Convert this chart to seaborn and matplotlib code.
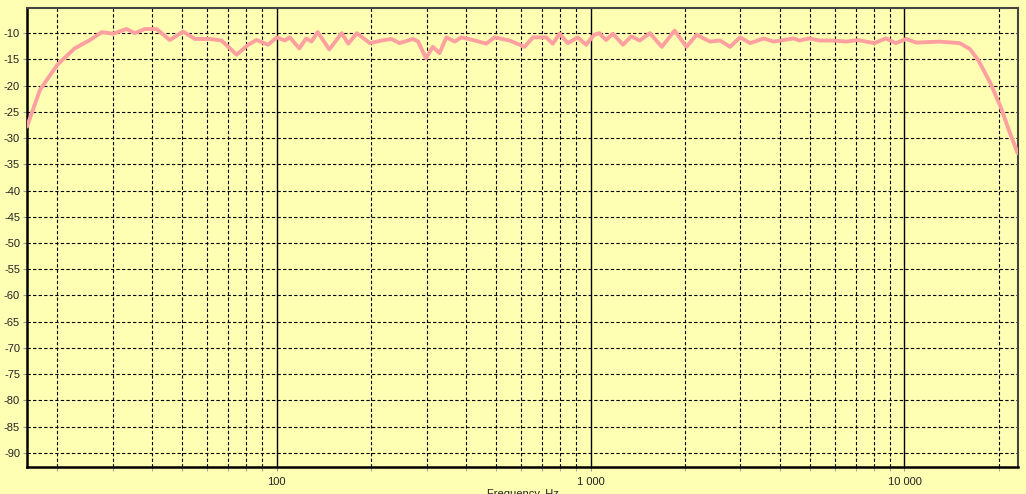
import numpy as np
import pandas as pd
import matplotlib
matplotlib.use('Agg')
import matplotlib.pyplot as plt
import seaborn as sns
from matplotlib.ticker import FixedLocator, FixedFormatter, NullFormatter

# 주파수 응답 데이터
freq_hz = [16, 17.6, 20, 22.7, 25.4, 27.7, 30.1, 33.2, 35.3, 38, 41.4, 45.6, 50.3, 54.9,
           61.2, 66.7, 74.5, 81.1, 86.2, 93.8, 100, 106, 110, 118, 124, 129, 135, 147,
           161, 169, 180, 198, 216, 232, 246, 272, 282, 299, 314, 330, 347, 369, 387,
           422, 465, 494, 552, 616, 655, 722, 758, 796, 846, 910, 967, 1026, 1066,
           1120, 1177, 1268, 1348, 1434, 1545, 1686, 1852, 2020, 2177, 2401, 2585,
           2781, 2994, 3224, 3559, 3830, 4443, 4625, 4978, 5360, 5913, 6520, 7103,
           8010, 8726, 9386, 10130, 10920, 12920, 15000, 16150, 17170, 18780, 20230,
           21490, 22950]
level_db = [-27.8, -20.8, -16.0, -12.9, -11.3, -9.8, -10.1, -9.2, -10.0, -9.2, -9.2, -11.3,
            -9.7, -11.1, -11.1, -11.4, -14.1, -12.2, -11.3, -12.2, -10.8, -11.4, -10.8,
            -12.9, -11.0, -11.6, -9.8, -13.1, -10.0, -12.0, -10.0, -11.9, -11.4, -11.1,
            -11.9, -11.1, -11.6, -14.8, -12.6, -13.8, -10.8, -11.6, -10.8, -11.3, -12.0,
            -10.8, -11.4, -12.6, -10.8, -10.8, -12.0, -10.1, -11.9, -10.8, -12.2, -10.3,
            -10.0, -11.3, -10.1, -12.2, -10.6, -11.4, -10.0, -12.6, -9.5, -12.6, -10.3,
            -11.6, -11.4, -12.6, -10.8, -11.9, -11.0, -11.6, -11.0, -11.4, -11.0, -11.4,
            -11.4, -11.6, -11.3, -11.9, -11.0, -11.9, -11.1, -11.8, -11.6, -11.9, -13.0,
            -15.1, -19.5, -24.0, -28.4, -32.9]

y_ticks = list(range(-90, -5, 5))
x_major = [100, 1000, 10000]
x_major_labels = ['100', '1 000', '10 000']
x_minor = [20, 30, 40, 50, 60, 70, 80, 90, 200, 300, 400, 500, 600, 700, 800, 900,
           2000, 3000, 4000, 5000, 6000, 7000, 8000, 9000, 20000]

df = pd.DataFrame({'freq': freq_hz, 'level': level_db})

sns.set_style('white')
plt.rcParams['font.family'] = ['Liberation Sans', 'DejaVu Sans']

bg = '#FFFFB4'
fig = plt.figure(figsize=(10.26, 4.94), dpi=100, facecolor=bg)
ax = fig.add_axes([0.0263, 0.0547, 0.9659, 0.9291])
ax.set_facecolor(bg)

sns.lineplot(data=df, x='freq', y='level', color='#FFA0A0', linewidth=2.8, ax=ax, zorder=3)

ax.set_xscale('log')
ax.set_xlim(16, 23000)
ax.set_ylim(-92.7, -5.2)

ax.xaxis.set_major_locator(FixedLocator(x_major))
ax.xaxis.set_major_formatter(FixedFormatter(x_major_labels))
ax.xaxis.set_minor_locator(FixedLocator(x_minor))
ax.xaxis.set_minor_formatter(NullFormatter())
ax.set_yticks(y_ticks)
ax.set_yticklabels([str(v) for v in y_ticks])

# 그리드
dash = (0, (3, 2))
ax.grid(axis='x', which='major', color='black', linestyle='-', linewidth=1.0, zorder=1)
ax.grid(axis='x', which='minor', color='black', linestyle=dash, linewidth=0.8, zorder=1)
ax.grid(axis='y', which='major', color='black', linestyle=dash, linewidth=0.8, zorder=1)

ax.tick_params(axis='both', which='both', length=3, color='#999999', labelsize=8,
               labelcolor='#222222')
ax.tick_params(axis='x', which='both', bottom=True, pad=4)
ax.tick_params(axis='y', which='both', left=True, pad=2)

for side in ['left', 'bottom']:
    ax.spines[side].set_color('black')
    ax.spines[side].set_linewidth(1.8)
for side in ['top', 'right']:
    ax.spines[side].set_color('#444444')
    ax.spines[side].set_linewidth(1.5)

ax.set_xlabel('Frequency, Hz', fontsize=8, color='#222222', labelpad=2)
ax.set_ylabel('')

fig.savefig('out.png', dpi=100, facecolor=bg)
